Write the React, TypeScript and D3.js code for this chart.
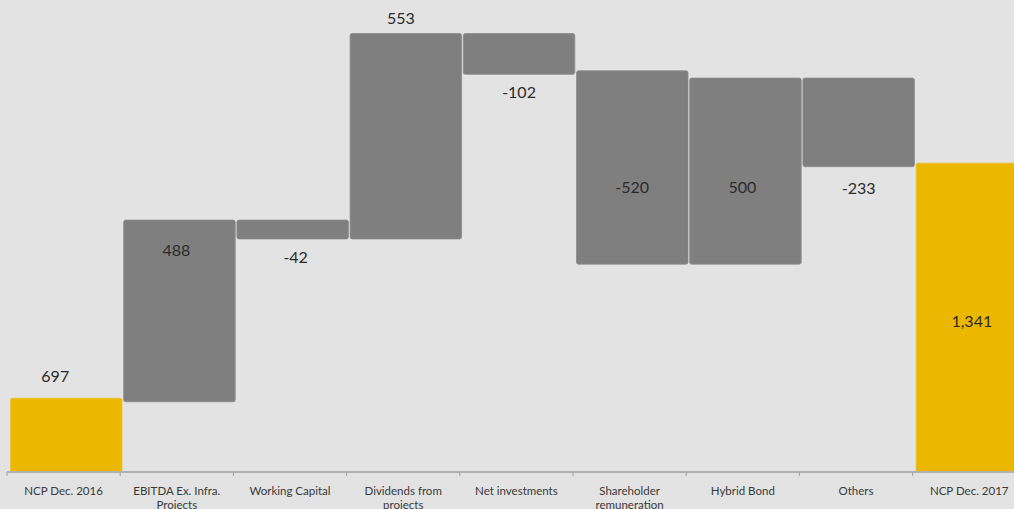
import React from "react";
import * as d3 from "d3";

const categories = [
  "NCP Dec. 2016",
  "EBITDA Ex. Infra. Projects",
  "Working Capital",
  "Dividends from projects",
  "Net investments",
  "Shareholder remuneration",
  "Hybrid Bond",
  "Others",
  "NCP Dec. 2017",
];
const labelLines = [
  ["NCP Dec. 2016"],
  ["EBITDA Ex. Infra.", "Projects"],
  ["Working Capital"],
  ["Dividends from", "projects"],
  ["Net investments"],
  ["Shareholder", "remuneration"],
  ["Hybrid Bond"],
  ["Others"],
  ["NCP Dec. 2017"],
];
const changes = [697, 488, -42, 553, -102, -520, 500, -233, 1341];
const isTotal = [true, false, false, false, false, false, false, false, true];
const valueLabels = ["697", "488", "-42", "553", "-102", "-520", "500", "-233", "1,341"];

// label placement styles (px offsets relative to bar edges)
const labelPlace: { ref: "top" | "bottom" | "mid"; dy: number; dx: number }[] = [
  { ref: "top", dy: -23, dx: -11 },
  { ref: "top", dy: 29, dx: -3 },
  { ref: "bottom", dy: 18, dx: 3 },
  { ref: "top", dy: -16, dx: -5 },
  { ref: "bottom", dy: 17, dx: 0 },
  { ref: "mid", dy: 19, dx: 0 },
  { ref: "mid", dy: 15, dx: -3 },
  { ref: "bottom", dy: 21, dx: 0 },
  { ref: "mid", dy: 3, dx: 0 },
];

const W = 1014;
const H = 509;
const FLOAT_EXTEND = 3.5;

export default function App() {
  React.useEffect(() => {
    document.body.style.margin = "0";
    document.body.style.background = "#e2e3e2";
  }, []);

  const x = d3.scaleBand<string>().domain(categories).range([7, 7 + 9 * 113.2]).padding(0);
  const y = d3.scaleLinear().domain([495, 1788]).range([472, 0]);

  let running = 0;
  const bars = changes.map((v, i) => {
    let lo: number, hi: number;
    if (isTotal[i]) {
      lo = 495;
      hi = v;
      running = v;
    } else {
      const start = running;
      running = running + v;
      lo = Math.min(start, running);
      hi = Math.max(start, running);
    }
    return { cat: categories[i], lo, hi, total: isTotal[i], i };
  });

  const font = "Lato, 'Open Sans', sans-serif";

  return (
    <svg width={W} height={H} style={{ display: "block", background: "#e2e3e2" }}>
      <rect x={0} y={0} width={W} height={H} fill="#e2e3e2" />
      {bars.map((b) => {
        const bx = (x(b.cat) as number) + 3.5;
        const bw = 111.5;
        const top = y(b.hi);
        const bot = y(b.lo) + (b.total ? 0 : FLOAT_EXTEND);
        return (
          <rect
            key={b.cat}
            x={bx}
            y={top}
            width={bw}
            height={bot - top}
            rx={2}
            fill={b.total ? "#ebb700" : "#7f7f7f"}
            stroke={b.total ? "#edc033" : "#8a8a8a"}
            strokeWidth={0.8}
          />
        );
      })}
      {/* axis */}
      <line x1={7} x2={W} y1={472} y2={472} stroke="#b0b0b0" strokeWidth={2} />
      {d3.range(0, 10).map((k) => {
        const tx = 7 + k * 113.2;
        return <line key={k} x1={tx} x2={tx} y1={472} y2={476} stroke="#a0a0a0" strokeWidth={1} />;
      })}
      {labelLines.map((lines, i) => {
        const cx = (x(categories[i]) as number) + x.bandwidth() / 2;
        return (
          <text key={i} x={cx} y={495} textAnchor="middle" fontFamily={font} fontSize={11.5} fill="#3a3a3a">
            {lines.map((ln, j) => (
              <tspan key={j} x={cx} dy={j === 0 ? 0 : 14}>
                {ln}
              </tspan>
            ))}
          </text>
        );
      })}
      {bars.map((b, i) => {
        const p = labelPlace[i];
        const cx = (x(b.cat) as number) + 3.5 + 111.5 / 2 + p.dx;
        const top = y(b.hi);
        const bot = y(b.lo) + (b.total ? 0 : FLOAT_EXTEND);
        const base = p.ref === "top" ? top : p.ref === "bottom" ? bot : (top + bot) / 2;
        return (
          <text
            key={"v" + i}
            x={cx}
            y={base + p.dy}
            textAnchor="middle"
            dominantBaseline="central"
            fontFamily={font}
            fontSize={16}
            fill="#2b2b2b"
          >
            {valueLabels[i]}
          </text>
        );
      })}
    </svg>
  );
}
